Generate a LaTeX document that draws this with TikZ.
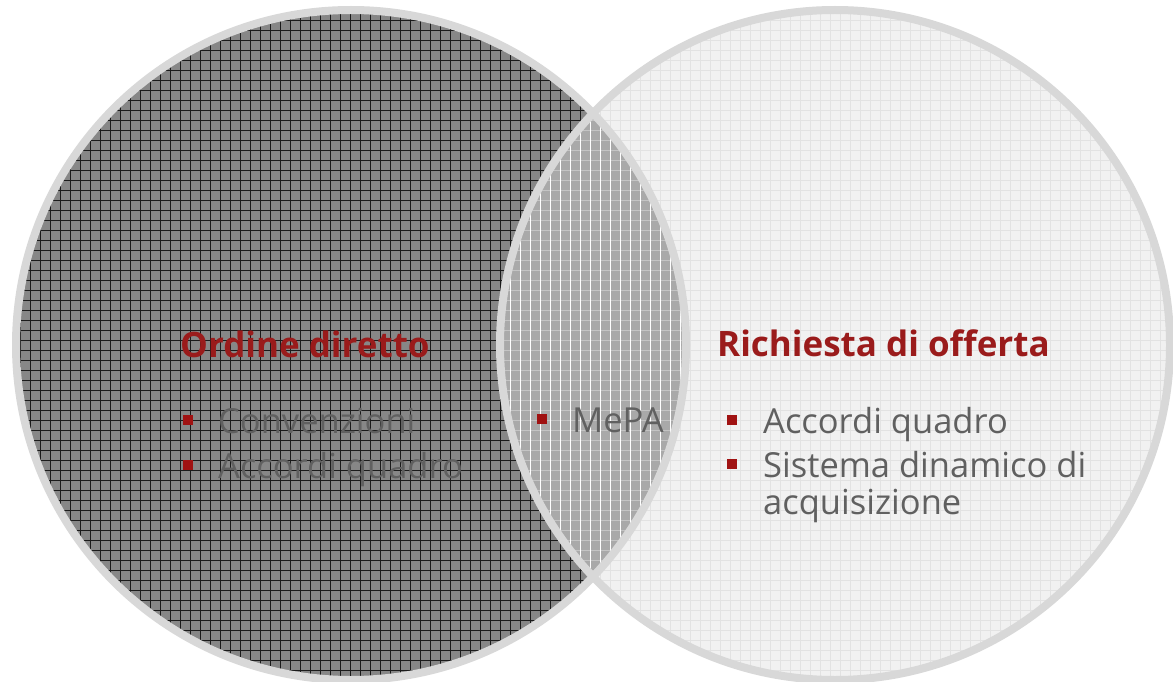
\documentclass[tikz,border=0pt]{standalone}
\usepackage{fontspec}
\setmainfont{Open Sans}
\definecolor{ringc}{HTML}{D8D8D8}
\definecolor{leftfill}{HTML}{878787}
\definecolor{leftgrid}{HTML}{1A1A1A}
\definecolor{lensfill}{HTML}{A9A9A9}
\definecolor{lensgrid}{HTML}{C4C4C4}
\definecolor{rightfill}{HTML}{F1F1F1}
\definecolor{rightgrid}{HTML}{E2E2E2}
\definecolor{titlered}{HTML}{9A1B1B}
\definecolor{bulletred}{HTML}{A01212}
\definecolor{bodygray}{HTML}{606060}
\begin{document}
\begin{tikzpicture}[x=1pt,y=-1pt,
  title/.style={anchor=base west,inner sep=0pt,text=titlered,font=\fontsize{35}{40}\selectfont\bfseries},
  body/.style={anchor=base west,inner sep=0pt,text=bodygray,font=\fontsize{34.5}{40}\selectfont,align=left},
  bul/.style={fill=bulletred,minimum size=10pt,inner sep=0pt,draw=none}]
\useasboundingbox (0,0) rectangle (1173,682);
\fill[white] (0,0) rectangle (1173,682);
% left circle
\begin{scope}
  \clip (351,345) circle (335);
  \fill[leftfill] (0,0) rectangle (700,690);
  \foreach \i in {0,10,...,700} {\draw[leftgrid,line width=0.75pt] (\i,0) -- (\i,690);}
  \foreach \j in {0,10,...,690} {\draw[leftgrid,line width=0.75pt] (0,\j) -- (700,\j);}
\end{scope}
% right circle
\begin{scope}
  \clip (835,345) circle (335);
  \fill[rightfill] (490,0) rectangle (1173,690);
  \foreach \i in {490,500,...,1180} {\draw[rightgrid,line width=0.8pt] (\i,0) -- (\i,690);}
  \foreach \j in {0,10,...,690} {\draw[rightgrid,line width=0.8pt] (490,\j) -- (1180,\j);}
\end{scope}
% lens
\begin{scope}
  \clip (351,345) circle (335);
  \clip (835,345) circle (335);
  \fill[lensfill] (490,0) rectangle (700,690);
  \foreach \j in {0,10,...,690} {\draw[lensgrid,line width=0.8pt] (490,\j) -- (700,\j);}
  \foreach \i in {490,500,...,700} {\draw[white,line width=0.8pt] (\i,0) -- (\i,690);}
\end{scope}
% rings
\draw[ringc,line width=8pt] (351,345) circle (335);
\draw[ringc,line width=8pt] (835,345) circle (335);
% texts
\node[title] (t1) at (180,357) {Ordine diretto};
\node[bul] (b1) at (188,420) {};
\node[body] (c1) at (218,433) {Convenzioni};
\node[bul] (b2) at (188,465) {};
\node[body] (c2) at (218,478) {Accordi quadro};
\node[bul] (b3) at (542,419) {};
\node[body] (m1) at (572,432) {MePA};
\node[title] (t2) at (717,356) {Richiesta di offerta};
\node[bul] (b4) at (732,420) {};
\node[body] (r1) at (763,433) {Accordi quadro};
\node[bul] (b5) at (732,464) {};
\node[body] (r2) at (763,477) {Sistema dinamico di};
\node[body] (r3) at (763,514) {acquisizione};
\end{tikzpicture}
\end{document}
